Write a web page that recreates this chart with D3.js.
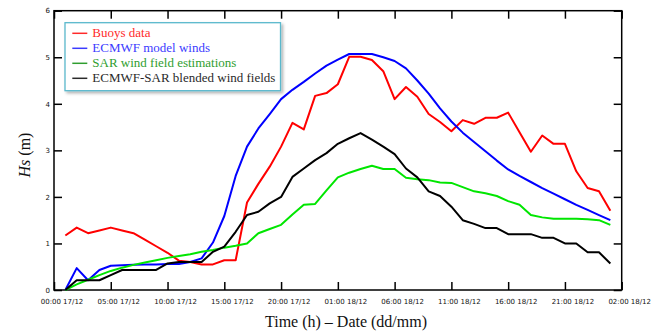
<!DOCTYPE html>
<html>
<head>
<meta charset="utf-8">
<script src="https://cdn.jsdelivr.net/npm/d3@7"></script>
<style>
  html, body { margin: 0; padding: 0; background: #fff; }
  svg { display: block; }
</style>
</head>
<body>
<div id="graph"></div>
<script>
// hours since 00:00 17/12
const hours = [1, 2, 3, 4, 5, 6, 7, 8, 9, 10, 11, 12, 13, 14, 15, 16, 17, 18, 19, 20,
  21, 22, 23, 24, 25, 26, 27, 28, 29, 30, 31, 32, 33, 34, 35, 36, 37, 38, 39, 40,
  41, 42, 43, 44, 45, 46, 47, 48, 49]

const buoys = [1.17, 1.34, 1.22, 1.28, 1.34, 1.28, 1.22, 1.08, 0.94, 0.80,
  0.63, 0.60, 0.55, 0.55, 0.64, 0.64, 1.88, 2.28, 2.65, 3.08,
  3.59, 3.45, 4.17, 4.23, 4.42, 5.01, 5.01, 4.94, 4.70, 4.10,
  4.36, 4.15, 3.78, 3.61, 3.41, 3.65, 3.57, 3.70, 3.70, 3.81,
  3.39, 2.97, 3.32, 3.14, 3.14, 2.55, 2.19, 2.12, 1.70]

const ecmwf = [0.00, 0.47, 0.21, 0.43, 0.52, 0.53, 0.54, 0.55, 0.55, 0.56,
  0.56, 0.60, 0.68, 1.02, 1.59, 2.45, 3.08, 3.47, 3.78, 4.10,
  4.30, 4.47, 4.65, 4.82, 4.95, 5.07, 5.07, 5.07, 5.00, 4.92,
  4.76, 4.50, 4.22, 3.90, 3.62, 3.38, 3.18, 2.98, 2.78, 2.59,
  2.45, 2.32, 2.19, 2.07, 1.95, 1.83, 1.72, 1.61, 1.50]

const sar = [0.00, 0.12, 0.22, 0.32, 0.41, 0.48, 0.54, 0.59, 0.64, 0.69,
  0.73, 0.77, 0.82, 0.86, 0.91, 0.95, 1.00, 1.22, 1.31, 1.40,
  1.62, 1.83, 1.85, 2.14, 2.42, 2.52, 2.60, 2.67, 2.60, 2.60,
  2.41, 2.38, 2.36, 2.31, 2.30, 2.21, 2.12, 2.08, 2.02, 1.91,
  1.83, 1.61, 1.56, 1.53, 1.53, 1.53, 1.52, 1.50, 1.40]

const blended = [0.00, 0.21, 0.21, 0.21, 0.32, 0.43, 0.43, 0.43, 0.43, 0.57,
  0.60, 0.60, 0.60, 0.82, 0.93, 1.25, 1.61, 1.68, 1.86, 2.00,
  2.43, 2.61, 2.79, 2.94, 3.14, 3.26, 3.37, 3.23, 3.08, 2.92,
  2.61, 2.42, 2.12, 2.02, 1.79, 1.50, 1.42, 1.33, 1.33, 1.20,
  1.20, 1.20, 1.12, 1.12, 1.00, 1.00, 0.81, 0.81, 0.57]

const tickHours = [0, 5, 10, 15, 20, 25, 30, 35, 40, 45, 50]
const tickLabels = ['00:00 17/12', '05:00 17/12', '10:00 17/12', '15:00 17/12', '20:00 17/12',
  '01:00 18/12', '06:00 18/12', '11:00 18/12', '16:00 18/12', '21:00 18/12', '02:00 18/12']
const yTicks = [0, 1, 2, 3, 4, 5, 6]

const seriesNames = ['Buoys data', 'ECMWF model winds', 'SAR wind field estimations', 'ECMWF-SAR blended wind fields']
const seriesValues = [buoys, ecmwf, sar, blended]
const lineColors = ['#ff0000', '#0000ff', '#00e600', '#000000']
const legendColors = ['#ff2a2a', '#3b3bff', '#2f9e2f', '#2a2a2a']

const width = 662
const height = 332
const plot = { left: 54, right: 621.7, top: 10.7, bottom: 290 }
const serif = '"Liberation Serif", "Times New Roman", serif'
const tickFont = '"DejaVu Sans", sans-serif'

const svg = d3.select('#graph')
  .append('svg')
  .attr('width', width)
  .attr('height', height)

const defs = svg.append('defs')
defs.append('filter')
  .attr('id', 'shadow')
  .attr('x', '-10%').attr('y', '-10%')
  .attr('width', '130%').attr('height', '140%')
  .append('feDropShadow')
  .attr('dx', 2).attr('dy', 2)
  .attr('stdDeviation', 1.5)
  .attr('flood-color', '#000')
  .attr('flood-opacity', 0.3)

const x = d3.scaleLinear([0, 50], [plot.left, plot.right])
const y = d3.scaleLinear([0, 6], [plot.bottom, plot.top])

// inner ticks on all four sides
const bottomAxis = svg.append('g')
  .attr('transform', `translate(0, ${plot.bottom})`)
  .call(d3.axisBottom(x).tickValues(tickHours).tickSize(-8).tickFormat((d, i) => tickLabels[i]))
bottomAxis.selectAll('text')
  .attr('y', 9)
  .attr('dx', 7.5)
  .style('font-family', tickFont)
  .style('font-size', '7px')
  .attr('fill', '#111')

svg.append('g')
  .attr('transform', `translate(0, ${plot.top})`)
  .call(d3.axisTop(x).tickValues(tickHours).tickSize(-8).tickFormat(''))

const leftAxis = svg.append('g')
  .attr('transform', `translate(${plot.left}, 0)`)
  .call(d3.axisLeft(y).tickValues(yTicks).tickSize(-8).tickFormat(d3.format('d')))
leftAxis.selectAll('text')
  .attr('x', -4)
  .style('font-family', tickFont)
  .style('font-size', '7px')
  .attr('fill', '#111')

svg.append('g')
  .attr('transform', `translate(${plot.right}, 0)`)
  .call(d3.axisRight(y).tickValues(yTicks).tickSize(-8).tickFormat(''))

svg.selectAll('.domain').remove()
svg.selectAll('.tick line')
  .attr('stroke', '#000')
  .attr('stroke-width', 1.5)

// frame
svg.append('rect')
  .attr('x', plot.left)
  .attr('y', plot.top)
  .attr('width', plot.right - plot.left)
  .attr('height', plot.bottom - plot.top)
  .attr('fill', 'none')
  .attr('stroke', '#000')
  .attr('stroke-width', 1.5)

// data lines
const line = d3.line()
  .x((d, i) => x(hours[i]))
  .y(d => y(d))

svg.append('g')
  .selectAll('path')
  .data(seriesValues)
  .enter()
  .append('path')
  .attr('fill', 'none')
  .attr('stroke', (d, i) => lineColors[i])
  .attr('stroke-width', 2)
  .attr('stroke-linejoin', 'round')
  .attr('d', line)

// legend
const legend = svg.append('g')
legend.append('rect')
  .attr('x', 65)
  .attr('y', 22.7)
  .attr('width', 215.5)
  .attr('height', 68)
  .attr('fill', '#fff')
  .attr('stroke', '#5ab8cc')
  .attr('stroke-width', 1.3)
  .attr('filter', 'url(#shadow)')

const rows = legend.selectAll('g.row')
  .data(seriesNames)
  .enter()
  .append('g')
  .classed('row', true)
  .attr('transform', (d, i) => `translate(0, ${33.3 + i * 15})`)

rows.append('line')
  .attr('x1', 72.3)
  .attr('x2', 87.3)
  .attr('stroke', (d, i) => legendColors[i])
  .attr('stroke-width', 1.5)

rows.append('text')
  .attr('x', 92.3)
  .attr('dy', '0.32em')
  .attr('fill', (d, i) => legendColors[i])
  .style('font-family', serif)
  .style('font-size', '13px')
  .text(d => d)

// axis titles
svg.append('text')
  .attr('x', 346)
  .attr('y', 327)
  .attr('text-anchor', 'middle')
  .style('font-family', serif)
  .style('font-size', '16px')
  .attr('fill', '#111')
  .text('Time (h) – Date (dd/mm)')

const yTitle = svg.append('text')
  .attr('transform', 'translate(30, 155) rotate(-90)')
  .attr('text-anchor', 'middle')
  .style('font-family', serif)
  .style('font-size', '16px')
  .attr('fill', '#111')
yTitle.append('tspan')
  .style('font-style', 'italic')
  .text('Hs')
yTitle.append('tspan')
  .text(' (m)')
</script>
</body>
</html>
